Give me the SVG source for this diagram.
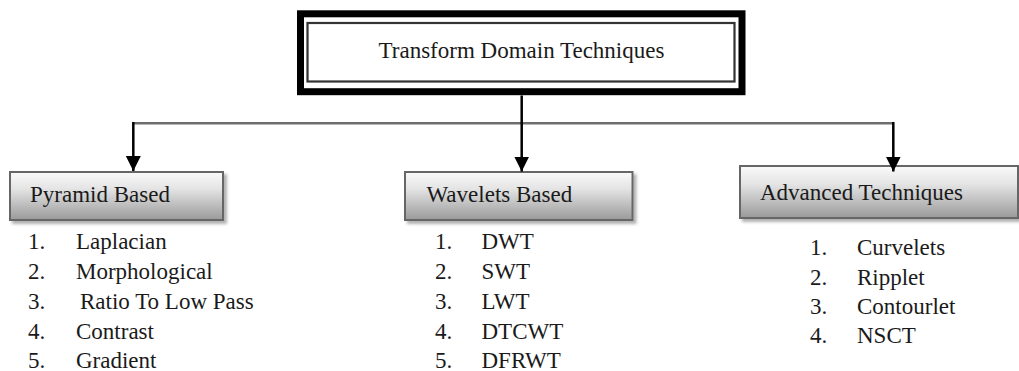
<svg xmlns="http://www.w3.org/2000/svg" width="1019" height="371" viewBox="0 0 1019 371" font-family="'Liberation Serif', 'Times New Roman', Times, serif">
  <defs>
    <linearGradient id="boxGrad" x1="0" y1="0" x2="0" y2="1">
      <stop offset="0" stop-color="#fafafa"/>
      <stop offset="0.35" stop-color="#e4e4e4"/>
      <stop offset="1" stop-color="#9a9a9a"/>
    </linearGradient>
    <filter id="shadow" x="-5%" y="-20%" width="115%" height="150%">
      <feDropShadow dx="3" dy="3" stdDeviation="1.5" flood-color="#000" flood-opacity="0.3"/>
    </filter>
    <marker id="arrow" markerUnits="userSpaceOnUse" markerWidth="16" markerHeight="16" refX="15" refY="7.5" orient="auto">
      <path d="M0,0 L15,7.5 L0,15 Z" fill="#000"/>
    </marker>
  </defs>
  <style>
    text { font-family: 'Liberation Serif', 'Times New Roman', Times, serif; fill: #1a1a1a; font-size: 23px; }
    .box { fill: url(#boxGrad); stroke: #666; stroke-width: 2; filter: url(#shadow); }
    .vline { fill: none; stroke: #000; stroke-width: 2.5; }
    .hline { fill: none; stroke: #6e6e6e; stroke-width: 2.5; }
  </style>
  <rect width="1019" height="371" fill="#fff"/>

  <g id="root">
    <rect x="300.5" y="13.8" width="441.5" height="77.9" fill="#fff" stroke="#000" stroke-width="7"/>
    <rect x="307.5" y="23" width="427" height="58.5" fill="#fff" stroke="#333" stroke-width="2.2"/>
    <text x="521.5" y="57.5" text-anchor="middle">Transform Domain Techniques</text>
  </g>

  <g id="pyramid">
    <rect class="box" x="10" y="172" width="213" height="48"/>
    <text x="30" y="201.5">Pyramid Based</text>
    <text x="28" y="249.3">1.</text><text x="76" y="249.3">Laplacian</text>
    <text x="28" y="279">2.</text><text x="76" y="279">Morphological</text>
    <text x="28" y="308.5">3.</text><text x="80" y="308.5">Ratio To Low Pass</text>
    <text x="28" y="338.5">4.</text><text x="76" y="338.5">Contrast</text>
    <text x="28" y="367.5">5.</text><text x="76" y="367.5">Gradient</text>
  </g>

  <g id="wavelets">
    <rect class="box" x="405" y="172" width="227.5" height="48"/>
    <text x="426.5" y="201.5">Wavelets Based</text>
    <text x="435" y="249.3">1.</text><text x="481.5" y="249.3">DWT</text>
    <text x="435" y="279">2.</text><text x="481.5" y="279">SWT</text>
    <text x="435" y="308.5">3.</text><text x="481.5" y="308.5">LWT</text>
    <text x="435" y="338.5">4.</text><text x="481.5" y="338.5">DTCWT</text>
    <text x="435" y="367.5">5.</text><text x="481.5" y="367.5">DFRWT</text>
  </g>

  <g id="advanced">
    <rect class="box" x="740" y="166" width="278" height="52"/>
    <text x="760" y="200">Advanced Techniques</text>
    <text x="810" y="255">1.</text><text x="857" y="255">Curvelets</text>
    <text x="810" y="284.5">2.</text><text x="857" y="284.5">Ripplet</text>
    <text x="810" y="314">3.</text><text x="857" y="314">Contourlet</text>
    <text x="810" y="342.5">4.</text><text x="857" y="342.5">NSCT</text>
  </g>

  <g id="connectors">
    <path class="hline" d="M133.3,123.3 H893.3"/>
    <path class="vline" d="M521.7,95.5 V171.5" marker-end="url(#arrow)"/>
    <path class="vline" d="M133.3,122 V171" marker-end="url(#arrow)"/>
    <path class="vline" d="M893.3,122 V171.5" marker-end="url(#arrow)"/>
  </g>
</svg>
